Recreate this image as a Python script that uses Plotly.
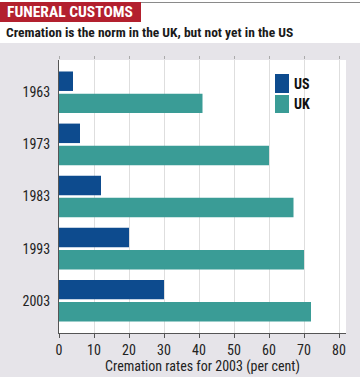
import plotly.graph_objects as go

years = ["1963", "1973", "1983", "1993", "2003"]
us_values = [4, 6, 12, 20, 30]
uk_values = [41, 60, 67, 70, 72]
x_ticks = [0, 10, 20, 30, 40, 50, 60, 70, 80]

W, H = 360, 377
L, R, T, B = 59, 14, 60, 44
PW, PH = W - L - R, H - T - B

def px(x):
    return (x - L) / PW

def py(y):
    return (H - B - y) / PH

FONT = "Roboto Condensed, Lato, sans-serif"
US_C = "#0d4b8e"
UK_C = "#3a9c96"
BG = "#e6e4e9"

fig = go.Figure()
fig.add_trace(go.Bar(y=years, x=us_values, orientation="h", name="US",
                     marker=dict(color=US_C, line=dict(width=0)), showlegend=False))
fig.add_trace(go.Bar(y=years, x=uk_values, orientation="h", name="UK",
                     marker=dict(color=UK_C, line=dict(width=0)), showlegend=False))
fig.add_trace(go.Scatter(x=[0], y=[years[0]], xaxis="x2", mode="none",
                         showlegend=False, hoverinfo="skip"))

shapes = [
    dict(type="rect", xref="paper", yref="paper", x0=px(0), x1=px(W), y0=py(43), y1=py(0),
         fillcolor="white", line=dict(width=0), layer="below"),
    dict(type="rect", xref="paper", yref="paper", x0=px(0), x1=px(141), y0=py(22), y1=py(2),
         fillcolor="#b3202e", line=dict(width=0), layer="below"),
    dict(type="line", xref="paper", yref="paper", x0=px(141), x1=px(W), y0=py(2.5), y1=py(2.5),
         line=dict(color="#8a8a8a", width=1), layer="below"),
    dict(type="rect", xref="paper", yref="paper", x0=px(275), x1=px(289), y0=py(93), y1=py(74),
         fillcolor=US_C, line=dict(width=0)),
    dict(type="rect", xref="paper", yref="paper", x0=px(275), x1=px(289), y0=py(113), y1=py(95),
         fillcolor=UK_C, line=dict(width=0)),
]

annotations = [
    dict(text="<b>FUNERAL CUSTOMS</b>", xref="paper", yref="paper", x=px(5), y=py(12.5),
         xanchor="left", yanchor="middle", showarrow=False,
         font=dict(family=FONT, size=15.5, color="white")),
    dict(text="<b>Cremation is the norm in the UK, but not yet in the US</b>", xref="paper", yref="paper",
         x=px(4), y=py(32), xanchor="left", yanchor="middle", showarrow=False,
         font=dict(family=FONT, size=13.5, color="#1a1a1a")),
    dict(text="<b>US</b>", xref="paper", yref="paper", x=px(292), y=py(83.5),
         xanchor="left", yanchor="middle", showarrow=False,
         font=dict(family=FONT, size=14, color="#111")),
    dict(text="<b>UK</b>", xref="paper", yref="paper", x=px(292), y=py(104),
         xanchor="left", yanchor="middle", showarrow=False,
         font=dict(family=FONT, size=14, color="#111")),
]

fig.update_layout(
    width=W, height=H,
    margin=dict(l=L, r=R, t=T, b=B, pad=0, autoexpand=False),
    paper_bgcolor=BG, plot_bgcolor="white",
    barmode="group", bargap=0.15, bargroupgap=0.12,
    shapes=shapes, annotations=annotations,
    font=dict(family=FONT, size=13, color="#222"),
    xaxis=dict(range=[0, 82], tickvals=x_ticks, showgrid=True, gridcolor="#dedede", gridwidth=1,
               zeroline=False, showline=True, linecolor="#555", linewidth=1, automargin=False,
               ticks="outside", ticklen=4, tickcolor="#555", ticklabelstandoff=0,
               tickfont=dict(family=FONT, size=14, color="#222"),
               title=dict(text="Cremation rates for 2003 (per cent)", standoff=4,
                          font=dict(family=FONT, size=14, color="#222"))),
    xaxis2=dict(overlaying="x", matches="x", side="top", anchor="y", tickvals=x_ticks,
                showticklabels=False, ticks="outside", ticklen=3, tickcolor="#aaa",
                showgrid=False, zeroline=False, showline=False, automargin=False),
    yaxis=dict(type="category", categoryorder="array", categoryarray=years,
               range=[4.62, -0.62], showgrid=False, zeroline=False, automargin=False,
               showline=True, linecolor="#555", linewidth=1, ticks="", ticklabelstandoff=5,
               tickfont=dict(family=FONT, size=14, color="#222")),
)

fig.write_html("out.html", config={"displayModeBar": False},
               post_script="document.body.style.margin='0';document.body.style.overflow='hidden';")
